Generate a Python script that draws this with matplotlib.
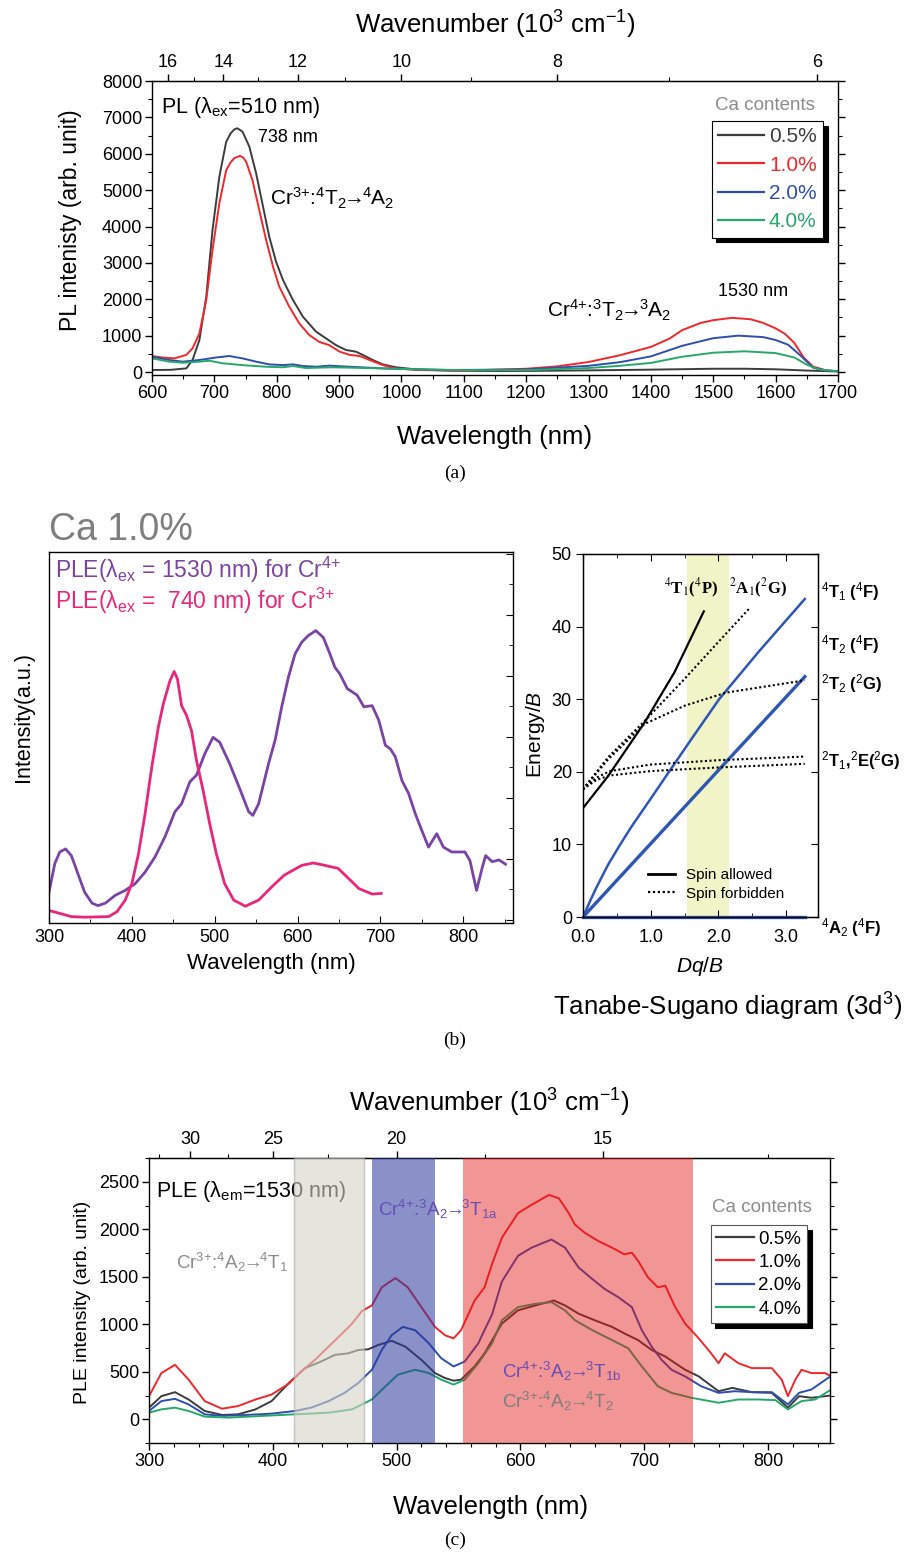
import numpy as np
import matplotlib
matplotlib.use('Agg')
import matplotlib.pyplot as plt
from matplotlib.lines import Line2D
from matplotlib.ticker import MultipleLocator, FixedLocator, FormatStrFormatter

plt.rcParams['font.family'] = ['Liberation Sans', 'DejaVu Sans']
plt.rcParams['mathtext.fontset'] = 'custom'
plt.rcParams['mathtext.rm'] = 'Liberation Sans'
plt.rcParams['mathtext.it'] = 'Liberation Sans:italic'
plt.rcParams['mathtext.bf'] = 'Liberation Sans:bold'

# ---------------- data: panel (a) PL spectra ----------------
a_labels = ['0.5%', '1.0%', '2.0%', '4.0%']
a_x05 = [600, 630, 655, 665, 676, 687, 697, 708, 719, 726, 732, 737, 745, 756, 767, 778, 788, 799, 810, 826, 842,
         863, 879, 895, 911, 927, 938, 954, 970, 991, 1024, 1077, 1152, 1200, 1300, 1400, 1500, 1550, 1600, 1650,
         1700]
a_y05 = [55, 60, 100, 330, 880, 2070, 3900, 5370, 6330, 6560, 6670, 6700, 6610, 6200, 5460, 4550, 3720, 3030, 2530,
         1980, 1520, 1110, 925, 740, 605, 560, 470, 330, 210, 130, 70, 37, 28, 30, 45, 65, 90, 90, 75, 40, 15]
a_x10 = [600, 616, 636, 655, 665, 676, 687, 697, 708, 719, 726, 732, 741, 746, 751, 761, 772, 783, 794, 804, 820,
         836, 852, 868, 884, 901, 917, 933, 949, 970, 991, 1024, 1100, 1200, 1250, 1300, 1350, 1400, 1430, 1450,
         1480, 1500, 1530, 1560, 1580, 1600, 1615, 1630, 1645, 1660, 1680, 1700]
a_y10 = [440, 400, 375, 470, 650, 1060, 1980, 3350, 4640, 5550, 5760, 5880, 5940, 5900, 5780, 5280, 4450, 3630,
         2900, 2350, 1800, 1340, 1020, 830, 740, 560, 470, 440, 330, 190, 100, 55, 40, 90, 156, 275, 460, 690, 920,
         1150, 1350, 1425, 1490, 1450, 1350, 1200, 1050, 800, 400, 150, 50, 20]
a_x20 = [600, 628, 649, 676, 703, 724, 745, 767, 788, 810, 826, 842, 863, 884, 917, 970, 1024, 1077, 1200, 1300,
         1350, 1400, 1450, 1500, 1540, 1580, 1600, 1620, 1640, 1660, 1680, 1700]
a_y20 = [420, 330, 285, 330, 400, 440, 375, 285, 210, 190, 210, 165, 145, 175, 145, 100, 75, 55, 70, 170, 270, 430,
         720, 930, 1000, 960, 880, 750, 450, 120, 40, 20]
a_x40 = [600, 628, 649, 676, 692, 713, 745, 783, 810, 826, 847, 890, 943, 1024, 1100, 1200, 1300, 1350, 1400, 1450,
         1500, 1550, 1600, 1630, 1650, 1670, 1700]
a_y40 = [375, 285, 255, 285, 310, 240, 190, 145, 130, 165, 110, 130, 110, 75, 50, 50, 110, 170, 250, 420, 530, 570,
         520, 400, 200, 70, 20]
a_top_ticks = [6, 8, 10, 12, 14, 16]
a_top_minor = [7, 9, 11, 13, 15]

# ---------------- data: panel (b) left, PLE of Ca 1.0% ----------------
b_x_cr4 = [300, 307, 313, 320, 327, 335, 343, 352, 359, 368, 380, 392, 404, 416, 428, 440, 452, 460, 470, 478, 488,
           498, 506, 518, 531, 541, 546, 553, 565, 573, 581, 589, 597, 605, 613, 622, 631, 639, 645, 651, 660, 672,
           680, 690, 698, 706, 712, 718, 726, 734, 742, 750, 758, 768, 776, 786, 802, 808, 816, 823, 827, 835, 843,
           851]
b_y_cr4 = [0.45, 0.92, 1.11, 1.16, 1.05, 0.75, 0.45, 0.27, 0.23, 0.27, 0.40, 0.48, 0.59, 0.78, 1.03, 1.36, 1.77,
           1.90, 2.26, 2.37, 2.72, 2.99, 2.91, 2.56, 2.12, 1.77, 1.71, 1.90, 2.56, 2.95, 3.50, 3.98, 4.36, 4.55, 4.66,
           4.74, 4.63, 4.36, 4.14, 4.03, 3.79, 3.68, 3.49, 3.51, 3.27, 2.86, 2.80, 2.67, 2.28, 2.07, 1.74, 1.46, 1.19,
           1.41, 1.19, 1.11, 1.11, 0.97, 0.48, 0.86, 1.05, 0.95, 0.98, 0.91]
b_x_cr3 = [300, 311, 327, 343, 372, 382, 392, 400, 408, 416, 424, 432, 438, 446, 451, 455, 460, 466, 472, 478, 486,
           494, 502, 512, 523, 537, 553, 569, 584, 605, 619, 633, 649, 662, 674, 690, 701]
b_y_cr3 = [0.15, 0.11, 0.05, 0.04, 0.05, 0.13, 0.32, 0.59, 1.08, 1.74, 2.50, 3.16, 3.54, 3.92, 4.07, 3.95, 3.51, 3.35,
           3.10, 2.61, 2.12, 1.57, 1.08, 0.59, 0.32, 0.22, 0.32, 0.54, 0.73, 0.89, 0.93, 0.89, 0.84, 0.67, 0.51, 0.42,
           0.43]

# ---------------- data: panel (b) right, Tanabe-Sugano d3 ----------------
ts_4A2_x = [0.0, 3.275]
ts_4A2_y = [0.0, 0.0]
ts_4T2_x = [0.0, 3.275]
ts_4T2_y = [0.0, 33.1]
ts_4T1F_x = [0.0, 0.1, 0.2, 0.37, 0.55, 0.72, 1.0, 1.27, 1.6, 2.01, 2.6, 3.275]
ts_4T1F_y = [0.0, 2.1, 4.1, 7.2, 10.0, 12.5, 16.3, 20.0, 24.5, 30.0, 36.6, 43.8]
ts_4T1P_x = [0.0, 0.37, 0.91, 1.35, 1.784]
ts_4T1P_y = [15.0, 19.4, 26.8, 33.7, 42.1]
ts_2E_x = [0.0, 0.2, 0.4, 1.0, 2.0, 3.275]
ts_2E_y = [17.6, 18.9, 19.5, 20.1, 20.6, 21.1]
ts_2T1_x = [0.0, 0.2, 0.4, 1.0, 2.0, 3.275]
ts_2T1_y = [17.6, 19.2, 20.1, 21.0, 21.6, 22.1]
ts_2T2_x = [0.0, 0.37, 0.91, 1.5, 2.11, 3.275]
ts_2T2_y = [17.6, 21.7, 26.6, 29.1, 30.9, 32.6]
ts_2A1_x = [0.0, 0.37, 0.91, 1.5, 2.0, 2.456]
ts_2A1_y = [17.6, 22.0, 27.0, 32.8, 37.9, 42.5]
ts_band = [1.53, 2.15]

# ---------------- data: panel (c) PLE spectra ----------------
c_x05 = [300, 310, 321, 332, 345, 359, 372, 386, 399, 413, 426, 439, 450, 461, 469, 477, 485, 496, 507, 520, 531,
         539, 546, 552, 563, 571, 585, 598, 612, 627, 636, 647, 660, 674, 684, 695, 706, 717, 725, 733, 744, 760,
         771, 787, 803, 816, 825, 835, 851]
c_y05 = [122, 243, 285, 208, 87, 45, 52, 104, 191, 382, 538, 608, 677, 694, 729, 736, 781, 826, 764, 625, 486, 434,
         406, 417, 556, 694, 1007, 1146, 1198, 1250, 1198, 1111, 1042, 972, 903, 833, 729, 660, 590, 521, 451, 295,
         330, 285, 278, 122, 243, 226, 250]
c_x10 = [300, 310, 321, 332, 345, 359, 372, 386, 399, 413, 423, 434, 445, 456, 464, 472, 480, 488, 499, 509, 520,
         531, 539, 546, 552, 563, 571, 577, 585, 598, 609, 623, 631, 639, 644, 652, 663, 674, 684, 690, 695, 703,
         711, 717, 725, 733, 744, 754, 760, 765, 776, 787, 803, 811, 816, 822, 827, 835, 846, 851]
c_y10 = [243, 486, 573, 417, 191, 111, 139, 208, 260, 375, 503, 625, 764, 903, 1007, 1139, 1198, 1389, 1486, 1389,
         1180, 972, 885, 851, 937, 1250, 1389, 1632, 1910, 2170, 2257, 2361, 2326, 2170, 2049, 1962, 1875, 1806,
         1736, 1753, 1667, 1493, 1389, 1406, 1180, 1007, 851, 694, 590, 694, 590, 538, 538, 417, 243, 417, 521, 486,
         486, 451]
c_x20 = [300, 310, 321, 332, 345, 359, 378, 399, 418, 431, 445, 458, 469, 480, 488, 496, 505, 515, 526, 536, 546,
         555, 566, 571, 577, 585, 598, 609, 625, 636, 647, 658, 668, 679, 690, 698, 706, 714, 722, 733, 746, 760,
         773, 787, 803, 816, 825, 835, 851]
c_y20 = [87, 191, 215, 156, 52, 35, 45, 59, 87, 122, 191, 278, 382, 521, 729, 885, 972, 937, 799, 642, 556, 608, 800,
         940, 1100, 1450, 1720, 1806, 1892, 1806, 1597, 1476, 1372, 1285, 1180, 938, 764, 625, 521, 451, 347, 278,
         295, 285, 285, 156, 278, 313, 458]
c_x40 = [300, 310, 321, 332, 345, 364, 391, 418, 445, 464, 480, 491, 501, 515, 526, 536, 546, 555, 566, 577, 585,
         598, 612, 625, 636, 644, 658, 674, 687, 698, 711, 722, 738, 760, 776, 792, 806, 816, 827, 838, 851]
c_y40 = [69, 104, 122, 87, 28, 17, 35, 52, 69, 104, 208, 347, 469, 521, 486, 417, 365, 417, 590, 799, 1042, 1180,
         1215, 1233, 1146, 1042, 938, 833, 747, 556, 347, 278, 226, 174, 208, 208, 201, 104, 191, 208, 313]
c_band_gray = [417, 474]
c_band_blue = [480, 531]
c_band_red = [554, 739]
c_top_ticks = [15, 20, 25, 30]
c_top_minor = [12.5, 17.5, 22.5, 27.5, 32.5]

# ---------------- styling ----------------
COLS = ['#3c3c3c', '#f0282d', '#2e4fae', '#27a86a']
GRAYTXT = '#8c8c8c'
PURPLE_TXT = '#6a4cb6'
W, H = 909, 1553
fig = plt.figure(figsize=(W / 100, H / 100), dpi=100)

ARROW = r'$\!\!\rightarrow\!\!$'


def trans(ion, a, b, c, d, e):
    # e.g. Cr^{3+}:^4T_2 -> ^4A_2
    return (r'Cr$^{' + ion + r'{+}}$:$^{' + a + r'}$' + b + r'$_{' + c + r'}$' + ARROW +
            r'$^{' + d + r'}$' + e)


def ax_at(x0, y0, x1, y1):
    return fig.add_axes([x0 / W, 1 - y1 / H, (x1 - x0) / W, (y1 - y0) / H])


def recip(x):
    x = np.array(x, float)
    near = np.isclose(x, 0)
    x[near] = np.inf
    x[~near] = 1e4 / x[~near]
    return x


def style_spectrum_axes(ax, fs=13):
    for s in ax.spines.values():
        s.set_linewidth(1.0)
    ax.tick_params(axis='both', which='major', labelsize=fs, length=5, width=1.0, direction='out', pad=2)
    ax.tick_params(axis='both', which='minor', length=3, width=0.8, direction='out')
    ax.tick_params(axis='y', which='both', right=True, labelright=False)


# ================= panel (a) =================
ax = ax_at(152, 81, 838, 375)
for xs, ys, c in zip([a_x05, a_x10, a_x20, a_x40], [a_y05, a_y10, a_y20, a_y40], COLS):
    ax.plot(xs, ys, color=c, lw=1.4)
ax.set_xlim(600, 1700)
ax.set_ylim(-82, 8000)
ax.xaxis.set_major_locator(MultipleLocator(100))
ax.xaxis.set_minor_locator(MultipleLocator(50))
ax.yaxis.set_major_locator(MultipleLocator(1000))
ax.yaxis.set_minor_locator(MultipleLocator(500))
style_spectrum_axes(ax, 13)
ax.set_xlabel('Wavelength (nm)', fontsize=18.5)
ax.xaxis.set_label_coords(0.5, -0.211)
ax.xaxis.label.set_va('center')
ax.set_ylabel('PL intenisty (arb. unit)', fontsize=16.5)
ax.yaxis.set_label_coords(-0.1195, 0.527)
ax.yaxis.label.set_va('center')
sec = ax.secondary_xaxis('top', functions=(recip, recip))
sec.set_xticks(a_top_ticks)
sec.xaxis.set_minor_locator(FixedLocator(a_top_minor))
sec.tick_params(which='major', labelsize=13, length=5, width=1.0, pad=2)
sec.tick_params(which='minor', length=3, width=0.8)
sec.set_xlabel(r'Wavenumber (10$^{3}$ cm$^{-1}$)', fontsize=18.5, labelpad=15)
ax.text(615, 7259, r'PL ($\mathrm{\lambda}_{\rm ex}$=510 nm)', fontsize=15.5, va='center')
ax.text(770, 6434, '738 nm', fontsize=13, va='center')
ax.text(789, 4784, trans('3', '4', 'T', '2', '4', 'A$_{2}$'), fontsize=15, va='center')
ax.text(1233, 1705, trans('4', '3', 'T', '2', '3', 'A$_{2}$'), fontsize=15, va='center')
ax.text(1508, 2200, '1530 nm', fontsize=13, va='center')
handles = [Line2D([], [], color=c, lw=1.6) for c in COLS]
leg = ax.legend(handles, a_labels, loc='upper right', bbox_to_anchor=(0.978, 0.864), borderaxespad=0,
                fontsize=15, labelcolor='linecolor', handlelength=2.2, handletextpad=0.25, labelspacing=0.45,
                borderpad=0.3, fancybox=False, framealpha=1, edgecolor='black',
                shadow={'ox': 3.5, 'oy': -3.5, 'color': 'black', 'alpha': 1})
leg.get_frame().set_linewidth(0.8)
ax.text(0.894, 0.918, 'Ca contents', transform=ax.transAxes, fontsize=13.5, color=GRAYTXT, ha='center', va='center')

# ================= panel (b) left =================
axb = ax_at(49, 552, 513, 923)
axb.plot(b_x_cr4, b_y_cr4, color='#7a44a4', lw=2.0)
axb.plot(b_x_cr3, b_y_cr3, color='#e8267c', lw=2.0)
axb.set_xlim(300, 860)
axb.set_ylim(-0.055, 6.03)
axb.xaxis.set_major_locator(MultipleLocator(100))
axb.xaxis.set_minor_locator(MultipleLocator(50))
axb.yaxis.set_major_locator(MultipleLocator(1))
axb.yaxis.set_minor_locator(MultipleLocator(0.5))
for s in axb.spines.values():
    s.set_linewidth(1.0)
axb.tick_params(axis='x', which='major', labelsize=13, length=5, direction='in', pad=4)
axb.tick_params(axis='x', which='minor', length=3, direction='in')
axb.tick_params(axis='y', which='both', left=False, right=True, labelleft=False, direction='in')
axb.tick_params(axis='y', which='major', length=5)
axb.tick_params(axis='y', which='minor', length=3)
axb.set_xlabel('Wavelength (nm)', fontsize=16)
axb.xaxis.set_label_coords(0.48, -0.108)
axb.xaxis.label.set_va('center')
axb.set_ylabel('Intensity(a.u.)', fontsize=15.5)
axb.yaxis.set_label_coords(-0.056, 0.555)
axb.yaxis.label.set_va('center')
axb.text(307, 5.73, r'PLE($\mathrm{\lambda}_{\rm ex}$ = 1530 nm) for Cr$^{4{+}}$', color='#7a44a4', fontsize=16.5,
         va='center')
axb.text(307, 5.23, r'PLE($\mathrm{\lambda}_{\rm ex}$ =  740 nm) for Cr$^{3{+}}$', color='#e8267c', fontsize=16.5,
         va='center')
fig.text(49 / W, 1 - 530 / H, 'Ca 1.0%', fontsize=27, color='#7f7f7f', va='center', ha='left')

# ================= panel (b) right: Tanabe-Sugano =================
axt = ax_at(583, 554, 818, 917)
axt.axvspan(ts_band[0], ts_band[1], color='#f1f4c6', zorder=0, lw=0)
TSB = '#2e56b4'
axt.plot(ts_4A2_x, ts_4A2_y, color=TSB, lw=2.4, clip_on=False)
axt.plot(ts_4T2_x, ts_4T2_y, color=TSB, lw=2.4)
axt.plot(ts_4T1F_x, ts_4T1F_y, color=TSB, lw=1.8)
axt.plot(ts_4T1P_x, ts_4T1P_y, color='black', lw=1.6)
for xs, ys in [(ts_2E_x, ts_2E_y), (ts_2T1_x, ts_2T1_y), (ts_2T2_x, ts_2T2_y), (ts_2A1_x, ts_2A1_y)]:
    axt.plot(xs, ys, color='black', lw=1.5, ls=(0, (1, 1.2)))
axt.set_xlim(0, 3.47)
axt.set_ylim(0, 50)
axt.xaxis.set_major_locator(MultipleLocator(1))
axt.xaxis.set_minor_locator(MultipleLocator(0.5))
axt.yaxis.set_major_locator(MultipleLocator(10))
axt.xaxis.set_major_formatter(FormatStrFormatter('%.1f'))
for s in axt.spines.values():
    s.set_linewidth(1.0)
axt.tick_params(axis='both', which='major', labelsize=13, length=5)
axt.tick_params(axis='x', which='both', direction='in', top=True, pad=9)
axt.tick_params(axis='x', which='minor', length=3)
axt.tick_params(axis='y', which='both', direction='out', right=False, pad=3)
axt.set_xlabel(r'$Dq$/$B$', fontsize=15)
axt.xaxis.set_label_coords(0.498, -0.135)
axt.xaxis.label.set_va('center')
axt.set_ylabel(r'Energy/$B$', fontsize=15)
axt.yaxis.set_label_coords(-0.204, 0.503)
axt.yaxis.label.set_va('center')
axr = axt.twinx()
axr.set_ylim(0, 50)
axr.yaxis.set_major_locator(MultipleLocator(10))
axr.tick_params(axis='y', direction='in', length=5, labelright=False)
lh = [Line2D([], [], color='black', lw=2.0), Line2D([], [], color='black', lw=1.6, ls=(0, (1, 1.2)))]
tl = axt.legend(lh, ['Spin allowed', 'Spin forbidden'], loc='lower left', bbox_to_anchor=(0.275, 0.045),
                frameon=False, fontsize=11, handlelength=1.8, handletextpad=0.7, labelspacing=0.3, borderpad=0,
                borderaxespad=0)
serif_kw = dict(family='Liberation Serif', weight='bold', fontsize=12, math_fontfamily='stix', va='center')
axt.text(1.2, 45.2, r'$^{4}$T$_{1}$($^{4}$P)', ha='left', **serif_kw)
axt.text(2.16, 45.2, r'$^{2}$A$_{1}$($^{2}$G)', ha='left', **serif_kw)
rk = dict(fontsize=12, weight='bold', va='center', ha='left', clip_on=False)
axt.text(3.52, 44.8, r'$^{4}$T$_{1}$ ($^{4}$F)', **rk)
axt.text(3.52, 37.5, r'$^{4}$T$_{2}$ ($^{4}$F)', **rk)
axt.text(3.52, 32.2, r'$^{2}$T$_{2}$ ($^{2}$G)', **rk)
axt.text(3.52, 21.6, r'$^{2}$T$_{1}$,$^{2}$E($^{2}$G)', **rk)
axt.text(3.52, -1.5, r'$^{4}$A$_{2}$ ($^{4}$F)', **rk)
fig.text(553 / W, 1 - 1007 / H, r'Tanabe-Sugano diagram (3d$^{3}$)', fontsize=18.5, va='center', ha='left')

# ================= panel (c) =================
axc = ax_at(149, 1158, 830, 1443)
for xs, ys, c in zip([c_x05, c_x10, c_x20, c_x40], [c_y05, c_y10, c_y20, c_y40], COLS):
    axc.plot(xs, ys, color=c, lw=1.4, zorder=2)
axc.axvspan(c_band_gray[0], c_band_gray[1], facecolor=(212 / 255, 212 / 255, 200 / 255), alpha=0.6,
            edgecolor='#a8a8a8', lw=1.0, zorder=3)
axc.axvspan(c_band_blue[0], c_band_blue[1], facecolor=(40 / 255, 55 / 255, 155 / 255), alpha=0.55, lw=0, zorder=3)
axc.axvspan(c_band_red[0], c_band_red[1], facecolor=(226 / 255, 20 / 255, 20 / 255), alpha=0.45, lw=0, zorder=3)
axc.set_xlim(300, 850)
axc.set_ylim(-250, 2750)
axc.xaxis.set_major_locator(MultipleLocator(100))
axc.xaxis.set_minor_locator(MultipleLocator(20))
axc.yaxis.set_major_locator(MultipleLocator(500))
axc.yaxis.set_minor_locator(MultipleLocator(250))
style_spectrum_axes(axc, 13)
axc.set_xlabel('Wavelength (nm)', fontsize=18.5)
axc.xaxis.set_label_coords(0.502, -0.2246)
axc.xaxis.label.set_va('center')
axc.set_ylabel('PLE intensity (arb. unit)', fontsize=14)
axc.yaxis.set_label_coords(-0.097, 0.495)
axc.yaxis.label.set_va('center')
secc = axc.secondary_xaxis('top', functions=(recip, recip))
secc.set_xticks(c_top_ticks)
secc.xaxis.set_minor_locator(FixedLocator(c_top_minor))
secc.tick_params(which='major', labelsize=13, length=5, width=1.0, pad=2)
secc.tick_params(which='minor', length=3, width=0.8)
secc.set_xlabel(r'Wavenumber (10$^{3}$ cm$^{-1}$)', fontsize=18.5, labelpad=14)
axc.text(306, 2393, r'PLE ($\mathrm{\lambda}_{\rm em}$=1530 nm)', fontsize=15.5, va='center', zorder=2.5)
axc.text(322, 1649, trans('3', '4', 'A', '2', '4', 'T$_{1}$'), fontsize=13.5, va='center', color=GRAYTXT, zorder=5)
axc.text(485, 2205, trans('4', '3', 'A', '2', '3', r'T$_{\mathrm{1a}}$'), fontsize=13.5, va='center',
         color=PURPLE_TXT, zorder=5)
axc.text(585, 503, trans('4', '3', 'A', '2', '3', r'T$_{\mathrm{1b}}$'), fontsize=13.5, va='center',
         color=PURPLE_TXT, zorder=5)
axc.text(585, 191, trans('3', '4', 'A', '2', '4', 'T$_{2}$'), fontsize=13.5, va='center', color='#7d7d7d', zorder=5)
handles = [Line2D([], [], color=c, lw=1.6) for c in COLS]
legc = axc.legend(handles, a_labels, loc='upper right', bbox_to_anchor=(0.966, 0.765), borderaxespad=0,
                  fontsize=13.5, handlelength=2.0, handletextpad=0.25, labelspacing=0.33,
                  borderpad=0.3, fancybox=False, framealpha=1, edgecolor='#555555',
                  shadow={'ox': 3.5, 'oy': -3.5, 'color': 'black', 'alpha': 1})
legc.set_zorder(6)
legc.get_frame().set_linewidth(0.8)
axc.text(0.900, 0.825, 'Ca contents', transform=axc.transAxes, fontsize=13.5, color=GRAYTXT, ha='center',
         va='center', zorder=6)

# captions
for lab, yy in [('(a)', 473), ('(b)', 1040), ('(c)', 1540)]:
    fig.text(455 / W, 1 - yy / H, lab, family='Liberation Serif', fontsize=14, ha='center', va='center')

fig.savefig('out.png', dpi=100)
